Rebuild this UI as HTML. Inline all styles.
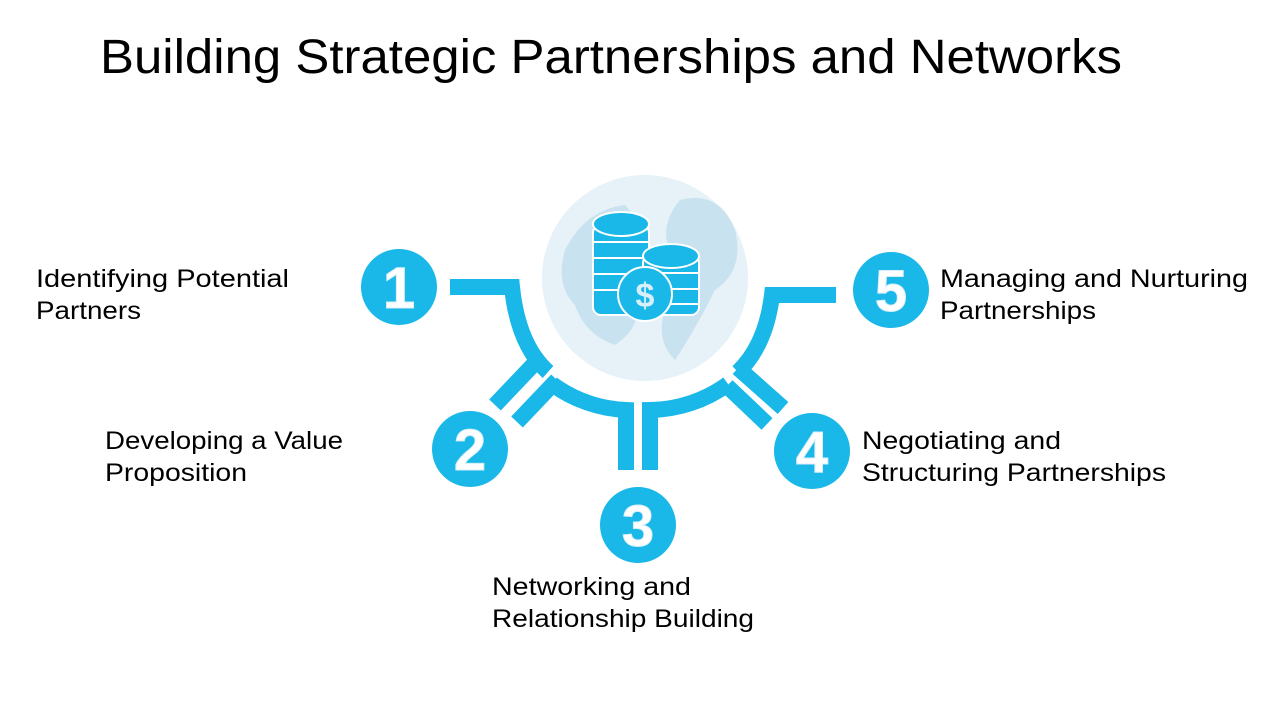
<!DOCTYPE html>
<html><head><meta charset="utf-8"><style>
html,body{margin:0;padding:0;background:#fff;}
svg{display:block}
text{font-family:"Liberation Sans",sans-serif;fill:#000}
.l{font-size:25px}
.n{font-family:"Liberation Sans",sans-serif;font-weight:bold;font-size:58px;fill:#fff;stroke:#d8eef8;stroke-width:1}
</style></head><body>
<svg width="1280" height="720" viewBox="0 0 1280 720" xmlns="http://www.w3.org/2000/svg">
<rect width="1280" height="720" fill="#fff"/>
<text x="100" y="73" font-size="48" textLength="1022" lengthAdjust="spacingAndGlyphs">Building Strategic Partnerships and Networks</text>

<circle cx="645" cy="278" r="103" fill="#e6f2f8"/>
<path d="M565 250 q20 -40 60 -45 q20 20 -10 40 q-10 30 20 50 q10 30 -20 50 q-30 -10 -40 -40 q-20 -20 -10 -55z" fill="#c9e2ef"/>
<path d="M680 200 q40 -10 55 30 q10 40 -20 60 q-20 40 -40 70 q-20 -20 -10 -50 q-20 -30 10 -50 q-20 -30 5 -60z" fill="#c9e2ef"/>
<g fill="#1ab8e8" stroke="#fff" stroke-width="2">
<rect x="593" y="225" width="56" height="90" rx="8"/>
<line x1="593" y1="242" x2="649" y2="242"/><line x1="593" y1="258" x2="649" y2="258"/><line x1="593" y1="274" x2="649" y2="274"/><line x1="593" y1="290" x2="649" y2="290"/>
<ellipse cx="621" cy="224" rx="28" ry="12"/>
<rect x="643" y="255" width="56" height="60" rx="8"/>
<line x1="643" y1="273" x2="699" y2="273"/><line x1="643" y1="289" x2="699" y2="289"/><line x1="643" y1="304" x2="699" y2="304"/>
<ellipse cx="671" cy="256" rx="28" ry="12"/>
<circle cx="645" cy="294" r="27"/>
</g>
<text x="645" y="307" font-size="34" font-weight="bold" text-anchor="middle" style="fill:#d8eef8">$</text>

<g fill="none" stroke="#1ab8e8" stroke-width="16">
<path d="M450 287 L512 287 Q518 345 548 372"/>
<path d="M836 295 L772 295 Q766 345 738 372"/>
<path d="M552 384 A135 135 0 0 0 626 410 V470"/>
<path d="M650 470 V410 A135 135 0 0 0 728 384"/>
<path d="M533 365 L495 405"/>
<path d="M557 380 L517 422"/>
<path d="M738 368 L783 408"/>
<path d="M727 386 L767 424"/>
</g>

<g fill="#1ab8e8">
<circle cx="399" cy="287" r="38"/>
<circle cx="470" cy="449" r="38"/>
<circle cx="638" cy="525" r="38"/>
<circle cx="812" cy="451" r="38"/>
<circle cx="891" cy="290" r="38"/>
</g>
<text class="n" x="399" y="308" text-anchor="middle">1</text>
<text class="n" x="470" y="470" text-anchor="middle">2</text>
<text class="n" x="638" y="546" text-anchor="middle">3</text>
<text class="n" x="812" y="472" text-anchor="middle">4</text>
<text class="n" x="891" y="311" text-anchor="middle">5</text>

<text class="l" x="36" y="287" textLength="253" lengthAdjust="spacingAndGlyphs">Identifying Potential</text>
<text class="l" x="36" y="319" textLength="105" lengthAdjust="spacingAndGlyphs">Partners</text>
<text class="l" x="105" y="449" textLength="238" lengthAdjust="spacingAndGlyphs">Developing a Value</text>
<text class="l" x="105" y="481" textLength="142" lengthAdjust="spacingAndGlyphs">Proposition</text>
<text class="l" x="492" y="595" textLength="199" lengthAdjust="spacingAndGlyphs">Networking and</text>
<text class="l" x="492" y="627" textLength="262" lengthAdjust="spacingAndGlyphs">Relationship Building</text>
<text class="l" x="862" y="449" textLength="199" lengthAdjust="spacingAndGlyphs">Negotiating and</text>
<text class="l" x="862" y="481" textLength="304" lengthAdjust="spacingAndGlyphs">Structuring Partnerships</text>
<text class="l" x="940" y="287" textLength="308" lengthAdjust="spacingAndGlyphs">Managing and Nurturing</text>
<text class="l" x="940" y="319" textLength="156" lengthAdjust="spacingAndGlyphs">Partnerships</text>
</svg>
</body></html>
